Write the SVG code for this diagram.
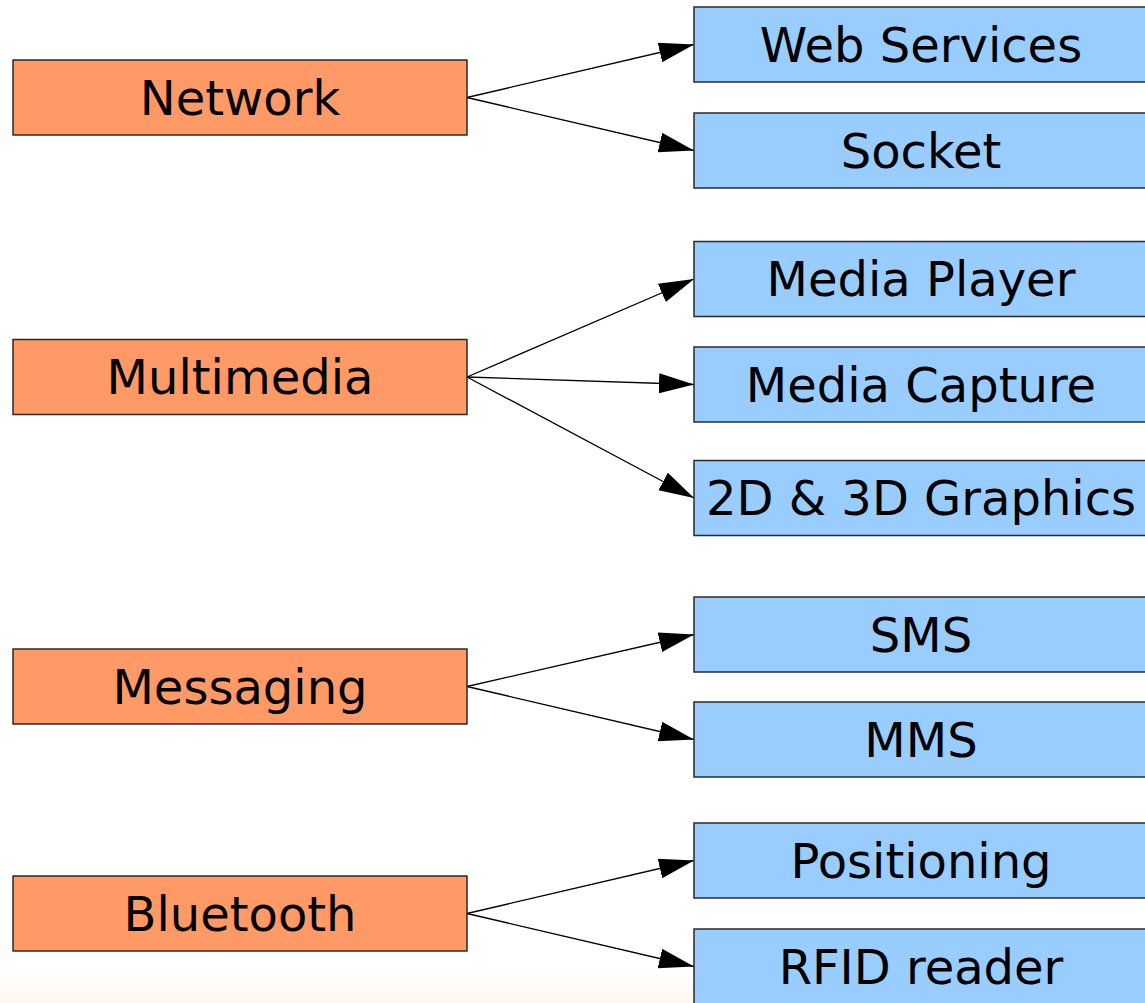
<svg xmlns="http://www.w3.org/2000/svg" width="1145" height="1003" viewBox="0 0 1145 1003">
<style>
.cat rect{fill:#ff9966;stroke:#2a2a2a;stroke-width:1.5}
.api rect{fill:#99ccff;stroke:#2a2a2a;stroke-width:1.5}
text{font-family:"DejaVu Sans",sans-serif;font-size:48px;fill:#000;text-anchor:middle}
#connectors line{stroke:#000;stroke-width:1.3;marker-end:url(#arr)}
</style>
<defs>
<marker id="arr" markerUnits="userSpaceOnUse" markerWidth="36" markerHeight="22" refX="35" refY="10" orient="auto" viewBox="0 0 36 22">
<path d="M0,0 L35,10 L0,20 Z" fill="#000"/>
</marker>
<linearGradient id="bg" x1="0" y1="0" x2="0" y2="1">
<stop offset="0" stop-color="#fff"/>
<stop offset="1" stop-color="#fff6ef"/>
</linearGradient>
</defs>
<rect x="0" y="0" width="1145" height="1003" fill="#fff"/>
<rect x="0" y="972" width="1145" height="31" fill="url(#bg)"/>
<g id="connectors">
<line x1="467" y1="97.5" x2="694" y2="44.5"/>
<line x1="467" y1="97.5" x2="694" y2="150.5"/>
<line x1="467" y1="377" x2="694" y2="279"/>
<line x1="467" y1="377" x2="694" y2="384.5"/>
<line x1="467" y1="377" x2="694" y2="498"/>
<line x1="467" y1="686.5" x2="694" y2="634.5"/>
<line x1="467" y1="686.5" x2="694" y2="739.5"/>
<line x1="467" y1="913.5" x2="694" y2="860.5"/>
<line x1="467" y1="913.5" x2="694" y2="966.5"/>
</g>
<g id="network" class="cat"><rect x="13" y="60" width="454" height="75"/><text x="240" y="114.5">Network</text></g>
<g id="multimedia" class="cat"><rect x="13" y="339.5" width="454" height="75"/><text x="240" y="394">Multimedia</text></g>
<g id="messaging" class="cat"><rect x="13" y="649" width="454" height="75"/><text x="240" y="703.5">Messaging</text></g>
<g id="bluetooth" class="cat"><rect x="13" y="876" width="454" height="75"/><text x="240" y="930.5">Bluetooth</text></g>
<g id="webservices" class="api"><rect x="694" y="7" width="454" height="75"/><text x="921" y="61.5">Web Services</text></g>
<g id="socket" class="api"><rect x="694" y="113" width="454" height="75"/><text x="921" y="167.5">Socket</text></g>
<g id="mediaplayer" class="api"><rect x="694" y="241.5" width="454" height="75"/><text x="921" y="296">Media Player</text></g>
<g id="mediacapture" class="api"><rect x="694" y="347" width="454" height="75"/><text x="921" y="401.5">Media Capture</text></g>
<g id="graphics" class="api"><rect x="694" y="460.5" width="454" height="75"/><text x="921" y="515">2D &amp; 3D Graphics</text></g>
<g id="sms" class="api"><rect x="694" y="597" width="454" height="75"/><text x="921" y="651.5">SMS</text></g>
<g id="mms" class="api"><rect x="694" y="702" width="454" height="75"/><text x="921" y="756.5">MMS</text></g>
<g id="positioning" class="api"><rect x="694" y="823" width="454" height="75"/><text x="921" y="877.5">Positioning</text></g>
<g id="rfid" class="api"><rect x="694" y="929" width="454" height="75"/><text x="921" y="983.5">RFID reader</text></g>
</svg>
